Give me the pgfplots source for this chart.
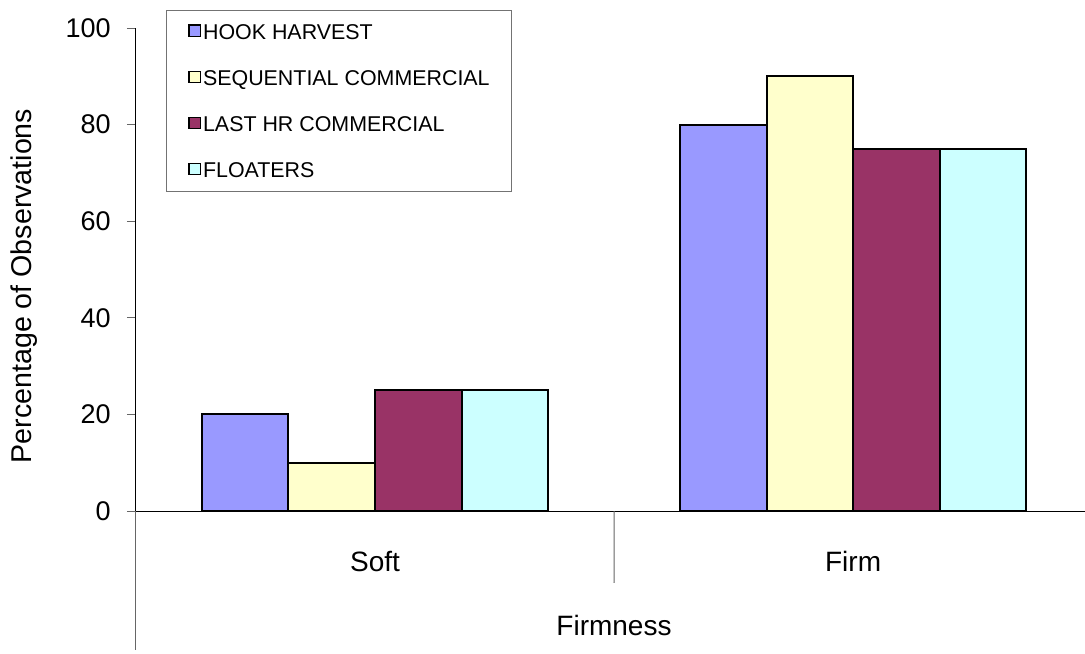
\documentclass[border=0pt]{standalone}
\usepackage{fontspec}
\setmainfont{Liberation Sans}
\usepackage{pgfplots}
\pgfplotsset{compat=1.18}
\definecolor{hook}{HTML}{9999FF}
\definecolor{seqc}{HTML}{FFFFCC}
\definecolor{lasthr}{HTML}{993366}
\definecolor{floatc}{HTML}{CCFFFF}
\newcommand{\mainfont}{\fontsize{13.5}{16}\selectfont}
\newcommand{\labfont}{\fontsize{14}{16}\selectfont}
\begin{document}
\begin{tikzpicture}
\begin{axis}[
  scale only axis, width=474.5pt, height=241.5pt,
  xmin=0, xmax=1.985, ymin=0, ymax=100,
  axis lines=left, axis line style={-, line width=0.5pt, black},
  ytick={0,20,40,60,80,100}, tick align=outside, major tick length=4.5pt,
  ytick style={line width=0.5pt, color=black!60},
  xtick={0.5,1.5}, xticklabels={Soft,Firm}, xtick style={draw=none},
  tick label style={font=\mainfont},
  /pgf/number format/assume math mode=true,
  yticklabel style={inner sep=0pt, anchor=east, xshift=-8pt},
  xticklabel style={inner sep=0pt, anchor=base, yshift=-25.5pt, font=\labfont},
  ylabel={Percentage of Observations},
  ylabel style={at={(rel axis cs:-0.118,0.4658)}, anchor=center, font=\fontsize{14.3}{16}\selectfont},
  xlabel={Firmness},
  xlabel style={at={(rel axis cs:0.5037,0)}, anchor=base, yshift=-62pt, font=\labfont},
  ybar=0pt, bar width=0.181,
  legend cell align=left,
  legend style={at={(rel axis cs:0.0316,1.0373)}, anchor=north west,
    draw=black!55, line width=0.5pt, font=\fontsize{10.7}{12}\selectfont,
    inner xsep=11pt, inner ysep=6.7pt, row sep=15.4pt,
    nodes={inner sep=0pt, text height=7.7pt, text depth=0pt}},
  legend image code/.code={\path[draw=none, fill=none] (0pt,0pt) -- (7pt,0pt);
    \draw[#1, draw=black, line width=0.6pt] (0pt,-2.3pt) rectangle (5.6pt,3.3pt);},
  clip=false,
]
\addplot[fill=hook, draw=black, line width=1pt] coordinates {(0.5,20) (1.5,80)};
\addlegendentry{HOOK HARVEST}
\addplot[fill=seqc, draw=black, line width=1pt] coordinates {(0.5,10) (1.5,90)};
\addlegendentry{SEQUENTIAL COMMERCIAL}
\addplot[fill=lasthr, draw=black, line width=1pt] coordinates {(0.5,25) (1.5,75)};
\addlegendentry{LAST HR COMMERCIAL}
\addplot[fill=floatc, draw=black, line width=1pt] coordinates {(0.5,25) (1.5,75)};
\addlegendentry{FLOATERS}
\draw[line width=0.5pt, black!60] (rel axis cs:0,0) -- (rel axis cs:0,-0.288);
\draw[line width=0.5pt, black!60] (axis cs:1,0) -- (rel axis cs:0.5037,-0.149);
\coordinate (bbl) at (rel axis cs:-0.1433,-0.294);
\coordinate (btr) at (rel axis cs:1,1.058);
\end{axis}
\pgfresetboundingbox
\path[use as bounding box] (bbl) rectangle (btr);
\end{tikzpicture}
\end{document}
